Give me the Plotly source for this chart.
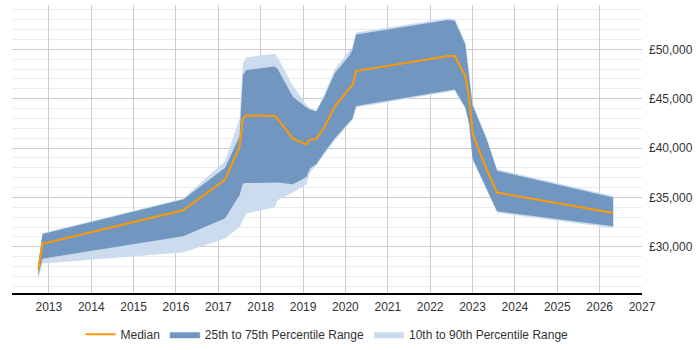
import plotly.graph_objects as go

years = [2012.75, 2012.85, 2016.17, 2017.16, 2017.5, 2017.58, 2017.66, 2018.33, 2018.4, 2018.76,
         2019.08, 2019.16, 2019.31, 2019.49, 2019.75, 2020.1, 2020.17, 2020.25, 2022.42, 2022.58,
         2022.83, 2022.92, 2023.0, 2023.34, 2023.58, 2026.32]
median = [27700, 30300, 33700, 36800, 40100, 43000, 43300, 43250, 42950, 40950,
          40370, 40850, 40930, 42000, 44200, 46100, 46350, 47800, 49320, 49320,
          47290, 45200, 41480, 37760, 35500, 33430]
p75 = [28200, 31300, 34800, 38000, 41200, 47400, 47900, 48250, 48000, 45200,
       44100, 43900, 43700, 45100, 47600, 49400, 50000, 51500, 52970, 52900,
       50500, 47500, 44350, 40800, 37700, 35000]
p90 = [28300, 31400, 34900, 38700, 43000, 48600, 49200, 49550, 49200, 46300,
       44350, 44100, 43800, 45300, 48000, 49900, 50300, 51700, 53150, 53100,
       50700, 47700, 44500, 41000, 37850, 35150]
p25 = [27100, 28800, 31070, 32900, 35230, 36400, 36450, 36500, 36500, 36340,
       37080, 37930, 38370, 39500, 41000, 42700, 43000, 44250, 45870, 45940,
       44120, 42500, 38950, 35730, 33600, 32080]
p10 = [26800, 28300, 29420, 30830, 32010, 32700, 33370, 34000, 34720, 35500,
       36300, 37500, 38200, 39300, 40800, 42500, 42900, 44100, 45750, 45800,
       44000, 42300, 38800, 35600, 33450, 31900]
tick_years = list(range(2013, 2028))

DARK = "#7197c0"
LIGHT = "#ccdcee"
ORANGE = "#ff9900"

fig = go.Figure()
fig.add_trace(go.Scatter(x=years, y=p10, mode="lines", line=dict(width=0, color=LIGHT),
                         showlegend=False, hoverinfo="skip"))
fig.add_trace(go.Scatter(x=years, y=p90, mode="lines", line=dict(width=0, color=LIGHT),
                         fill="tonexty", fillcolor=LIGHT, name="10th to 90th Percentile Range",
                         legendrank=3))
fig.add_trace(go.Scatter(x=years, y=p25, mode="lines", line=dict(width=0, color=DARK),
                         showlegend=False, hoverinfo="skip"))
fig.add_trace(go.Scatter(x=years, y=p75, mode="lines", line=dict(width=0, color=DARK),
                         fill="tonexty", fillcolor=DARK, name="25th to 75th Percentile Range",
                         legendrank=2))
fig.add_trace(go.Scatter(x=years, y=median, mode="lines", line=dict(width=2, color=ORANGE),
                         name="Median", legendrank=1))

fig.update_layout(
    width=700, height=350,
    margin=dict(l=12, r=58, t=5, b=57, autoexpand=False),
    paper_bgcolor="white", plot_bgcolor="white",
    font=dict(family="Liberation Sans, Arial, sans-serif", size=12, color="#333"),
    legend=dict(orientation="h", x=0.5, xanchor="center", y=-0.1435, yanchor="middle",
                font=dict(size=12, color="#333"), traceorder="normal",
                itemwidth=30),
    xaxis=dict(range=[2012.13, 2027.0], tickmode="array", tickvals=tick_years,
               ticktext=[str(y) for y in tick_years],
               showgrid=True, gridcolor="#cccccc", gridwidth=1,
               showline=True, linecolor="#000", linewidth=1.5,
               zeroline=False, ticks="", tickfont=dict(size=12, color="#333"),
               ticklabelstandoff=2),
    yaxis=dict(range=[25320, 54490], side="right", dtick=5000, tick0=0,
               tickprefix="£", tickformat=",d",
               showgrid=True, gridcolor="#cccccc", gridwidth=1,
               minor=dict(dtick=1000, showgrid=True, gridcolor="#ececec", gridwidth=1),
               zeroline=False, showline=False, ticks="",
               tickfont=dict(size=12, color="#333"), ticklabelstandoff=6),
)

fig.write_html("out.html")
